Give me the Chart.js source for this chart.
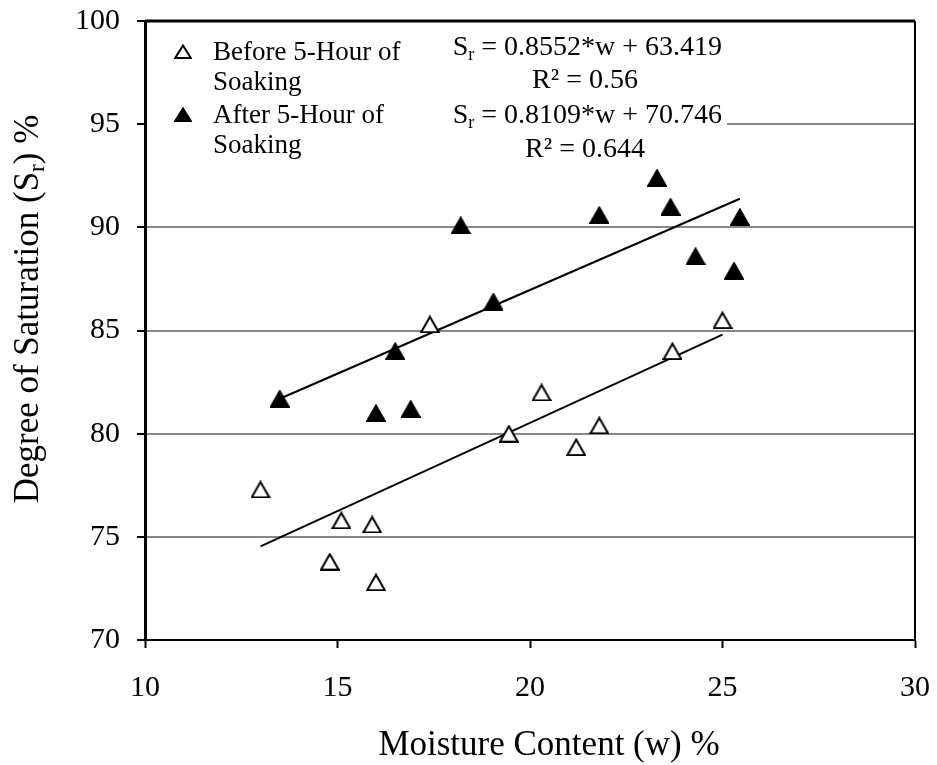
<!DOCTYPE html>
<html>
<head>
<meta charset="utf-8">
<script src="https://cdn.jsdelivr.net/npm/chart.js@4.4.0/dist/chart.umd.min.js"></script>
<style>
  html, body { margin: 0; padding: 0; background: #fff; }
</style>
</head>
<body>
<canvas id="satChart" width="937" height="765"></canvas>
<script>
// valores
const beforeW  = [13.0, 14.8, 15.1, 15.9, 16.0, 17.4, 19.45, 20.3, 21.2, 21.8, 23.7, 25.0];
const beforeSr = [77.3, 73.8, 75.8, 75.6, 72.8, 85.3, 80.0, 82.0, 79.35, 80.4, 84.0, 85.5];
const afterW   = [13.5, 16.0, 16.9, 16.5, 19.05, 18.2, 21.8, 23.3, 23.65, 25.45, 24.3, 25.3];
const afterSr  = [81.7, 81.0, 81.2, 84.0, 86.4, 90.1, 90.6, 92.4, 91.0, 90.5, 88.6, 87.9];
const xTicks = [10, 15, 20, 25, 30];
const yTicks = [70, 75, 80, 85, 90, 95, 100];
const seriesNames = [['Before 5-Hour of', 'Soaking'], ['After 5-Hour of', 'Soaking']];
// linhas de tendência (equações mostradas no gráfico)
const fitBefore = { slope: 0.8552, intercept: 63.419, eq: '0.8552*w + 63.419', r2: '0.56' };
const fitAfter  = { slope: 0.8109, intercept: 70.746, eq: '0.8109*w + 70.746', r2: '0.644' };

const SERIF = '"Liberation Serif", "Times New Roman", serif';
Chart.defaults.font.family = SERIF;
Chart.defaults.color = '#000';

// marcador triângulo estilo Excel (centro da caixa)
function makeTriangle(filled, w, h) {
  const c = document.createElement('canvas');
  c.width = w;
  c.height = h;
  const g = c.getContext('2d');
  g.beginPath();
  g.moveTo(w / 2, 1.5);
  g.lineTo(w - 1.2, h - 1);
  g.lineTo(1.2, h - 1);
  g.closePath();
  g.fillStyle = filled ? '#000' : '#fff';
  g.fill();
  g.lineWidth = 2;
  g.strokeStyle = '#000';
  g.lineJoin = 'miter';
  g.stroke();
  return c;
}

const openTri = makeTriangle(false, 20, 18);
const fullTri = makeTriangle(true, 20, 18);
const openTriSmall = makeTriangle(false, 18, 15);
const fullTriSmall = makeTriangle(true, 18, 15);

function trend(fit, xs) {
  const lo = Math.min(...xs), hi = Math.max(...xs);
  return [{ x: lo, y: fit.slope * lo + fit.intercept }, { x: hi, y: fit.slope * hi + fit.intercept }];
}

// texto com subscrito (S_r)
function drawRich(ctx, parts, x, y, align, size) {
  const subSize = Math.round(size * 0.65);
  let total = 0;
  parts.forEach(p => {
    ctx.font = (p.sub ? subSize : size) + 'px ' + SERIF;
    p.w = ctx.measureText(p.t).width;
    total += p.w;
  });
  let cx = align === 'right' ? x - total : align === 'center' ? x - total / 2 : x;
  parts.forEach(p => {
    ctx.font = (p.sub ? subSize : size) + 'px ' + SERIF;
    ctx.textAlign = 'left';
    ctx.textBaseline = 'alphabetic';
    ctx.fillText(p.t, cx, p.sub ? y + size * 0.18 : y);
    cx += p.w;
  });
}

const decor = {
  id: 'decor',
  beforeDatasetsDraw(chart) {
    const { ctx, chartArea: ca } = chart;
    ctx.save();
    // caixa branca da legenda
    ctx.fillStyle = '#fff';
    ctx.fillRect(ca.left + 2, ca.top + 2, 727 - ca.left - 2, 165 - ca.top - 2);
    ctx.restore();
  },
  afterDraw(chart) {
    const { ctx, chartArea: ca } = chart;
    ctx.save();
    // moldura superior e direita
    ctx.strokeStyle = '#000';
    ctx.lineWidth = 3;
    ctx.beginPath();
    ctx.moveTo(ca.left, ca.top);
    ctx.lineTo(ca.right, ca.top);
    ctx.stroke();
    ctx.lineWidth = 2;
    ctx.beginPath();
    ctx.moveTo(ca.right, ca.top);
    ctx.lineTo(ca.right, ca.bottom);
    ctx.stroke();

    // legenda manual
    ctx.drawImage(openTriSmall, 183 - 9, 52 - 8);
    ctx.drawImage(fullTriSmall, 183 - 9, 115 - 8);
    ctx.fillStyle = '#000';
    ctx.font = '27px ' + SERIF;
    ctx.textAlign = 'left';
    ctx.textBaseline = 'alphabetic';
    ctx.fillText(seriesNames[0][0], 213, 60);
    ctx.fillText(seriesNames[0][1], 213, 90);
    ctx.fillText(seriesNames[1][0], 213, 123);
    ctx.fillText(seriesNames[1][1], 213, 153);

    // equações
    drawRich(ctx, [{ t: 'S' }, { t: 'r', sub: true }, { t: ' = ' + fitBefore.eq }], 722, 55, 'right', 28);
    drawRich(ctx, [{ t: 'R\u00b2 = ' + fitBefore.r2 }], 585, 88, 'center', 28);
    drawRich(ctx, [{ t: 'S' }, { t: 'r', sub: true }, { t: ' = ' + fitAfter.eq }], 722, 123, 'right', 28);
    drawRich(ctx, [{ t: 'R\u00b2 = ' + fitAfter.r2 }], 585, 157, 'center', 28);

    // títulos dos eixos
    drawRich(ctx, [{ t: 'Moisture Content (w) %' }], 549, 755, 'center', 35);
    ctx.translate(38, 309);
    ctx.rotate(-Math.PI / 2);
    drawRich(ctx, [{ t: 'Degree of Saturation (S' }, { t: 'r', sub: true }, { t: ') %' }], 0, 0, 'center', 35);
    ctx.restore();
  }
};

const ctx = document.getElementById('satChart').getContext('2d');
new Chart(ctx, {
  type: 'scatter',
  data: {
    datasets: [
      {
        label: seriesNames[0].join(' '),
        data: beforeW.map((w, i) => ({ x: w, y: beforeSr[i] })),
        pointStyle: openTri,
        order: 0
      },
      {
        label: seriesNames[1].join(' '),
        data: afterW.map((w, i) => ({ x: w, y: afterSr[i] })),
        pointStyle: fullTri,
        order: 0
      },
      {
        label: 'trend before',
        data: trend(fitBefore, beforeW),
        showLine: true,
        borderColor: '#000',
        borderWidth: 2,
        pointRadius: 0,
        order: 1
      },
      {
        label: 'trend after',
        data: trend(fitAfter, afterW),
        showLine: true,
        borderColor: '#000',
        borderWidth: 2,
        pointRadius: 0,
        order: 1
      }
    ]
  },
  options: {
    responsive: false,
    animation: false,
    devicePixelRatio: 1,
    layout: { padding: { top: 21, right: 22, left: 0, bottom: 0 } },
    plugins: {
      legend: { display: false },
      tooltip: { enabled: false }
    },
    scales: {
      x: {
        type: 'linear',
        min: xTicks[0],
        max: xTicks[xTicks.length - 1],
        afterBuildTicks: s => { s.ticks = xTicks.map(v => ({ value: v })); },
        afterFit: s => { s.height = 125; s.paddingLeft = 0; s.paddingRight = 0; },
        ticks: { font: { size: 30 }, color: '#000', padding: 22, maxRotation: 0 },
        grid: { drawOnChartArea: false, drawTicks: true, tickLength: 8, tickColor: '#000', tickWidth: 2 },
        border: { display: true, color: '#000', width: 2 }
      },
      y: {
        min: yTicks[0],
        max: yTicks[yTicks.length - 1],
        afterBuildTicks: s => { s.ticks = yTicks.map(v => ({ value: v })); },
        afterFit: s => { s.width = 145; s.paddingTop = 0; s.paddingBottom = 0; },
        ticks: { font: { size: 30 }, color: '#000', padding: 17 },
        grid: {
          color: c => (c.tick && (c.tick.value === 70 || c.tick.value === 100)) ? 'rgba(0,0,0,0)' : '#888',
          lineWidth: 2,
          drawTicks: true,
          tickLength: 8,
          tickColor: '#000',
          tickWidth: 2
        },
        border: { display: true, color: '#000', width: 3 }
      }
    }
  },
  plugins: [decor]
});
</script>
</body>
</html>
